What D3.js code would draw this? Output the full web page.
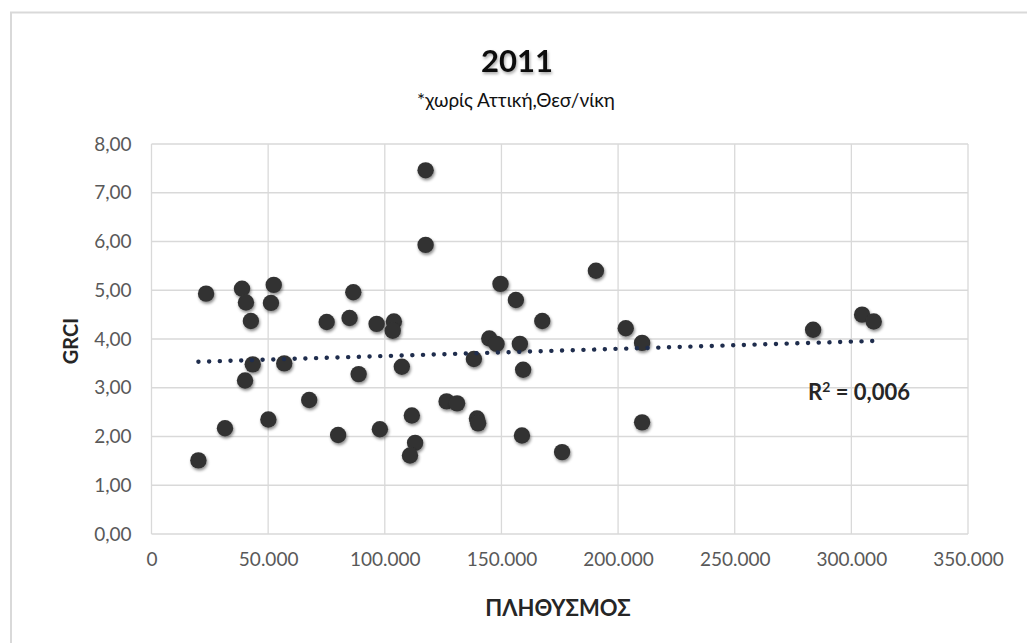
<!DOCTYPE html>
<html>
<head>
<meta charset="utf-8">
<script src="https://cdn.jsdelivr.net/npm/d3@7"></script>
<style>
  html, body { margin: 0; padding: 0; background: #fff; }
  svg { display: block; }
</style>
</head>
<body>
<script>
// Population (ΠΛΗΘΥΣΜΟΣ) and GRCI per prefecture, 2011
const population = [
  117500, 117500, 23400, 38800, 40500, 52400, 51200, 42600, 86500, 75100,
  84900, 96500, 103900, 103400, 43400, 56900, 40100, 88800, 107300, 67600,
  31500, 50100, 80000, 97900, 111600, 113000, 110800, 20100, 190500, 149600,
  156200, 167500, 203300, 210300, 144800, 147900, 157900, 138200, 159300, 126500,
  131000, 139500, 140000, 158800, 176000, 210300, 283600, 304600, 309600
];
const grci = [
  7.46, 5.93, 4.93, 5.03, 4.75, 5.11, 4.74, 4.37, 4.96, 4.35,
  4.43, 4.31, 4.36, 4.17, 3.48, 3.50, 3.15, 3.28, 3.43, 2.75,
  2.17, 2.35, 2.03, 2.15, 2.43, 1.87, 1.61, 1.51, 5.40, 5.13,
  4.80, 4.37, 4.22, 3.92, 4.01, 3.90, 3.90, 3.59, 3.37, 2.72,
  2.68, 2.37, 2.27, 2.02, 1.68, 2.29, 4.19, 4.50, 4.36
];
const xTicks = [0, 50000, 100000, 150000, 200000, 250000, 300000, 350000];
const yTicks = [0, 1, 2, 3, 4, 5, 6, 7, 8];
const titleText = "2011";
const subtitleText = "*χωρίς Αττική,Θεσ/νίκη";
const xTitle = "ΠΛΗΘΥΣΜΟΣ";
const yTitle = "GRCI";
const r2Text = "0,006";

const W = 1027, H = 643;
const plot = { left: 151.5, right: 968, top: 144, bottom: 534 };
const FONT = "Lato, 'Open Sans', sans-serif";

const svg = d3.select("body").append("svg").attr("width", W).attr("height", H);

const defs = svg.append("defs");
const f = defs.append("filter").attr("id", "shadow").attr("x", "-50%").attr("y", "-50%").attr("width", "200%").attr("height", "200%");
f.append("feDropShadow").attr("dx", 1).attr("dy", 2).attr("stdDeviation", 1.8).attr("flood-color", "#000").attr("flood-opacity", 0.45);
const tf = defs.append("filter").attr("id", "tshadow").attr("x", "-20%").attr("y", "-20%").attr("width", "140%").attr("height", "160%");
tf.append("feDropShadow").attr("dx", 1).attr("dy", 2).attr("stdDeviation", 1.5).attr("flood-color", "#000").attr("flood-opacity", 0.35);

// chart border
svg.append("rect").attr("x", 11).attr("y", 12.5).attr("width", W + 20).attr("height", H + 20)
  .attr("fill", "#fff").attr("stroke", "#d9d9d9").attr("stroke-width", 2);

const x = d3.scaleLinear().domain([0, 350000]).range([plot.left, plot.right]);
const y = d3.scaleLinear().domain([0, 8]).range([plot.bottom, plot.top]);

const fmtX = d => d3.format(",")(d).replace(/,/g, ".");
const fmtY = d => d.toFixed(2).replace(".", ",");

// gridlines
const g = svg.append("g");
g.selectAll("line.h").data(yTicks).join("line")
  .attr("x1", plot.left).attr("x2", plot.right)
  .attr("y1", d => y(d)).attr("y2", d => y(d))
  .attr("stroke", "#d9d9d9").attr("stroke-width", 1.3);
g.selectAll("line.v").data(xTicks).join("line")
  .attr("y1", plot.top).attr("y2", plot.bottom)
  .attr("x1", d => x(d)).attr("x2", d => x(d))
  .attr("stroke", "#d9d9d9").attr("stroke-width", 1.3);

// axes via d3 axis (labels only)
const xAxis = svg.append("g").attr("transform", `translate(0,${plot.bottom})`)
  .call(d3.axisBottom(x).tickValues(xTicks).tickFormat(fmtX).tickSize(0).tickPadding(19));
xAxis.select(".domain").remove();
xAxis.selectAll("text").attr("font-family", FONT).attr("font-size", 19).attr("fill", "#595959");

const yAxis = svg.append("g").attr("transform", `translate(${plot.left},0)`)
  .call(d3.axisLeft(y).tickValues(yTicks).tickFormat(fmtY).tickSize(0).tickPadding(20));
yAxis.select(".domain").remove();
yAxis.selectAll("text").attr("font-family", FONT).attr("font-size", 19).attr("fill", "#595959");

// points
svg.append("g").selectAll("circle").data(population.map((p, i) => [p, grci[i]])).join("circle")
  .attr("cx", d => x(d[0])).attr("cy", d => y(d[1])).attr("r", 8.2)
  .attr("fill", "#333333").attr("filter", "url(#shadow)");

// linear trendline (least squares)
const n = population.length;
const mx = d3.mean(population), my = d3.mean(grci);
let sxy = 0, sxx = 0;
for (let i = 0; i < n; i++) { sxy += (population[i] - mx) * (grci[i] - my); sxx += (population[i] - mx) ** 2; }
const slope = sxy / sxx, intercept = my - slope * mx;
const x0 = d3.min(population), x1 = d3.max(population);
svg.append("line")
  .attr("x1", x(x0)).attr("y1", y(intercept + slope * x0))
  .attr("x2", x(x1)).attr("y2", y(intercept + slope * x1))
  .attr("stroke", "#1f2d4d").attr("stroke-width", 4.4)
  .attr("stroke-dasharray", "0.1 10.6").attr("stroke-linecap", "round");

// R² label
const r2 = svg.append("text").attr("x", 808).attr("y", 400)
  .attr("font-family", FONT).attr("font-size", 22).attr("font-weight", "bold").attr("fill", "#262626");
r2.append("tspan").text("R");
r2.append("tspan").text("2").attr("font-size", 14).attr("dy", -8);
r2.append("tspan").text(" = " + r2Text).attr("dy", 8);

// titles
svg.append("text").attr("x", 517).attr("y", 72).attr("text-anchor", "middle")
  .attr("font-family", FONT).attr("font-size", 31).attr("font-weight", "bold").attr("fill", "#111")
  .attr("filter", "url(#tshadow)").text(titleText);
svg.append("text").attr("x", 516).attr("y", 107).attr("text-anchor", "middle")
  .attr("font-family", FONT).attr("font-size", 19).attr("fill", "#111").text(subtitleText);

svg.append("text").attr("x", 558).attr("y", 616).attr("text-anchor", "middle")
  .attr("font-family", FONT).attr("font-size", 22).attr("font-weight", "bold").attr("fill", "#262626").text(xTitle);
svg.append("text").attr("transform", `translate(78,${(plot.top + plot.bottom) / 2 + 2}) rotate(-90)`)
  .attr("text-anchor", "middle")
  .attr("font-family", FONT).attr("font-size", 20).attr("font-weight", "bold").attr("fill", "#262626").text(yTitle);
</script>
</body>
</html>
